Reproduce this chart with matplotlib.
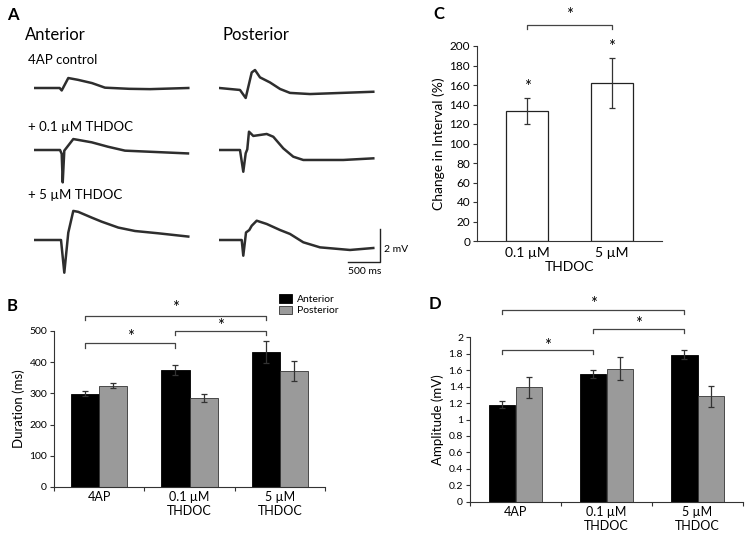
import matplotlib
matplotlib.use("Agg")
import matplotlib.pyplot as plt
from matplotlib.ticker import FuncFormatter
from matplotlib.transforms import offset_copy

plt.rcParams["font.family"] = ["Lato", "DejaVu Sans"]

W, H = 751, 541

# --- panel A: field potential traces (time in ms, voltage in mV, relative to baseline)
ant_4ap_t = [0, 400, 433, 537, 690, 912, 1117, 1500, 1828, 2433]
ant_4ap_v = [0, 0, -0.15, 0.61, 0.5, 0.3, 0.02, -0.05, -0.07, 0]
post_4ap_t = [0, 327, 417, 512, 564, 643, 801, 960, 1117, 1434, 2433]
post_4ap_v = [0, -0.12, -0.61, 0.95, 1.1, 0.65, 0.34, -0.06, -0.3, -0.37, -0.23]

ant_01_t = [0, 406, 433, 449, 474, 616, 907, 1164, 1433, 2428]
ant_01_v = [0, 0, -0.23, -1.98, -0.04, 0.67, 0.47, 0.2, -0.04, -0.21]
post_01_t = [0, 327, 379, 417, 442, 469, 537, 749, 853, 1011, 1169, 1327, 1959, 2433]
post_01_v = [0, 0, -1.33, -0.2, 0.04, 1.12, 0.86, 0.98, 0.81, 0.1, -0.41, -0.61, -0.61, -0.51]

ant_5_t = [0, 422, 474, 537, 616, 695, 907, 1065, 1327, 1591, 1959, 2433]
ant_5_v = [0, 0, -2.0, 0.45, 1.78, 1.72, 1.37, 1.12, 0.76, 0.55, 0.41, 0.21]
post_5_t = [0, 354, 379, 422, 474, 512, 591, 749, 960, 1117, 1327, 1591, 2065, 2433]
post_5_v = [0, 0, -0.96, 0.46, 0.61, 0.87, 1.18, 0.98, 0.61, 0.37, -0.14, -0.45, -0.61, -0.49]

row_titles = ["4AP control", "+ 0.1 \u00b5M THDOC", "+ 5 \u00b5M THDOC"]

# --- panel B/D data
groups = ["4AP", "0.1 \u00b5M\nTHDOC", "5 \u00b5M\nTHDOC"]
dur_ant = [299, 374, 434]
dur_ant_err = [8, 16, 35]
dur_post = [325, 286, 372]
dur_post_err = [9, 13, 33]
amp_ant = [1.18, 1.55, 1.79]
amp_ant_err = [0.04, 0.05, 0.05]
amp_post = [1.39, 1.62, 1.28]
amp_post_err = [0.13, 0.135, 0.13]

# --- panel C data
int_labels = ["0.1 \u00b5M", "5 \u00b5M"]
interval = [133, 162]
interval_err = [13.5, 26]

GRAY = "#9a9a9a"
LINE = "#333333"


def rect(l, t, r, b):
    return [l / W, 1 - b / H, (r - l) / W, (b - t) / H]


fig = plt.figure(figsize=(W / 100, H / 100), dpi=100)

# ---------- A ----------
traces = [
    [(ant_4ap_t, ant_4ap_v), (post_4ap_t, post_4ap_v)],
    [(ant_01_t, ant_01_v), (post_01_t, post_01_v)],
    [(ant_5_t, ant_5_v), (post_5_t, post_5_v)],
]
row_base = [88, 150, 240]
title_y = [60, 127, 195]
col_left = [34.3, 219.3]
ms_px = 15.8
mv_px = 16.35
last_ax = None
for r, row in enumerate(traces):
    for c, (t, v) in enumerate(row):
        l = col_left[c]
        ax = fig.add_axes(rect(l, row_base[r] - 2.5 * mv_px, l + 2500 / ms_px, row_base[r] + 2.5 * mv_px))
        ax.plot(t, v, color="#2e2e2e", lw=1.8, solid_joinstyle="round")
        ax.set_xlim(0, 2500)
        ax.set_ylim(-2.5, 2.5)
        ax.axis("off")
        last_ax = ax
    fig.text(28 / W, 1 - title_y[r] / H, row_titles[r], fontsize=9.5, va="center", ha="left")

# scale bar
last_ax.plot([2039, 2539, 2539], [-1.33, -1.33, 0.67], color="#222222", lw=1, clip_on=False)
last_ax.text(2602, -0.6, "2 mV", fontsize=7.5, va="center", ha="left", clip_on=False)
last_ax.text(2290, -1.92, "500 ms", fontsize=7.5, va="center", ha="center", clip_on=False)

fig.text(25 / W, 1 - 35 / H, "Anterior", fontsize=12, va="center")
fig.text(222 / W, 1 - 35 / H, "Posterior", fontsize=12, va="center")

for lbl, x, y in [("A", 7, 15), ("B", 7, 306), ("C", 433, 14), ("D", 429, 304)]:
    fig.text(x / W, 1 - y / H, lbl, fontsize=12, fontweight="bold", va="center", ha="left")


def style_axes(ax, size):
    for s in ["top", "right"]:
        ax.spines[s].set_visible(False)
    for s in ["left", "bottom"]:
        ax.spines[s].set_linewidth(0.8)
        ax.spines[s].set_color(LINE)
    ax.tick_params(axis="both", direction="out", length=3, width=0.8, color=LINE, labelsize=size, pad=2)


def bracket(ax, x1, x2, y, tip, star_y):
    ax.plot([x1, x1, x2, x2], [y - tip, y, y, y - tip], color="#444444", lw=0.9, clip_on=False)
    ax.text((x1 + x2) / 2, star_y, "*", fontsize=12, ha="center", va="center", clip_on=False)


def grouped(ax, ant, ant_err, post, post_err, w):
    xs = [i + 0.5 for i in range(len(groups))]
    xa = [x - w / 2 for x in xs]
    xp = [x + w / 2 for x in xs]
    ax.bar(xa, ant, width=w, color="black", edgecolor="black", lw=0.6, label="Anterior")
    ax.bar(xp, post, width=w, color=GRAY, edgecolor="#333333", lw=0.6, label="Posterior")
    ax.errorbar(xa, ant, yerr=ant_err, fmt="none", ecolor=LINE, elinewidth=0.9, capsize=2, capthick=0.9)
    ax.errorbar(xp, post, yerr=post_err, fmt="none", ecolor=LINE, elinewidth=0.9, capsize=2, capthick=0.9)
    ax.set_xlim(0, len(groups))
    ax.set_xticks([0, 1, 2, 3])
    ax.set_xticklabels([])
    # group labels hang just under the axis line
    trans = offset_copy(ax.get_xaxis_transform(), fig=fig, y=-3.2, units="points")
    for x, g in zip(xs, groups):
        ax.text(x, 0, g, transform=trans, ha="center", va="top", fontsize=9, linespacing=1.15)
    return xa


# ---------- B ----------
axB = fig.add_axes(rect(54, 331, 325, 487))
style_axes(axB, 7.5)
xa = grouped(axB, dur_ant, dur_ant_err, dur_post, dur_post_err, 0.31)
axB.set_ylim(0, 500)
axB.set_yticks(range(0, 501, 100))
axB.set_ylabel("Duration (ms)", fontsize=9.5, labelpad=3)
bracket(axB, xa[0], xa[1], 460, 13, 480)
bracket(axB, xa[1], xa[2], 501, 13, 517)
bracket(axB, xa[0], xa[2], 549, 13, 574)
axB.legend(loc="upper left", bbox_to_anchor=(220 / 271, 1.27), frameon=False, fontsize=7.5,
           handlelength=1.2, handleheight=0.9, handletextpad=0.5, labelspacing=0.15, borderpad=0)

# ---------- C ----------
axC = fig.add_axes(rect(477, 46, 662, 241))
style_axes(axC, 8.5)
xc = list(range(len(int_labels)))
axC.bar(xc, interval, width=0.49, color="white", edgecolor="#222222", lw=0.9)
axC.errorbar(xc, interval, yerr=interval_err, fmt="none", ecolor=LINE, elinewidth=0.9, capsize=2.5, capthick=0.9)
axC.set_xlim(-0.59, 1.59)
axC.set_ylim(0, 200)
axC.set_yticks(range(0, 201, 20))
axC.set_xticks(xc)
axC.set_xticklabels(int_labels, fontsize=10)
axC.tick_params(axis="x", length=0, pad=4)
axC.set_xlabel("THDOC", fontsize=10, labelpad=2)
axC.set_ylabel("Change in Interval (%)", fontsize=10, labelpad=3)
for x, v, e in zip(xc, interval, interval_err):
    axC.text(x, v + e + 11, "*", fontsize=12, ha="center", va="center")
bracket(axC, xc[0], xc[1], 221.5, 4.5, 232)

# ---------- D ----------
axD = fig.add_axes(rect(470, 337.3, 743, 501.7))
style_axes(axD, 7.5)
xa = grouped(axD, amp_ant, amp_ant_err, amp_post, amp_post_err, 0.286)
axD.set_ylim(0, 2)
axD.set_yticks([i * 0.2 for i in range(11)])
axD.yaxis.set_major_formatter(FuncFormatter(lambda v, p: f"{v:g}"))
axD.set_ylabel("Amplitude (mV)", fontsize=9.5, labelpad=3)
bracket(axD, xa[0], xa[1], 1.845, 0.05, 1.89)
bracket(axD, xa[1], xa[2], 2.097, 0.05, 2.16)
bracket(axD, xa[0], xa[2], 2.33, 0.05, 2.41)

fig.savefig("out.png", dpi=100)
